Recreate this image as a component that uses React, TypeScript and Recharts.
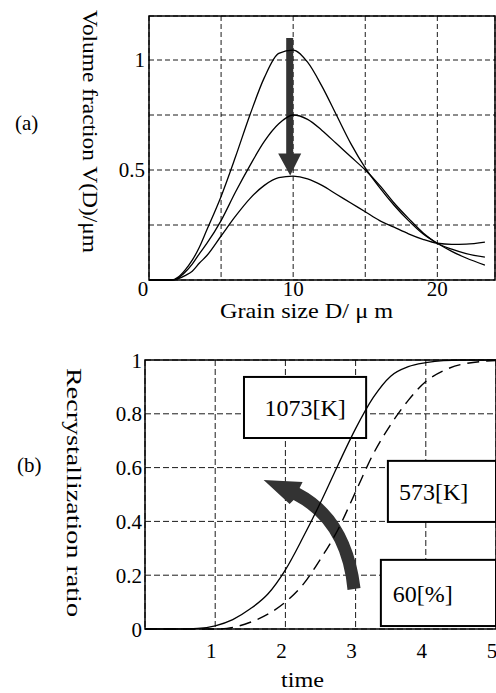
import { LineChart, Line, XAxis, YAxis, CartesianGrid, ReferenceArea } from "recharts";

const FONT = "Liberation Serif, Times New Roman, serif";

// (a) grain size distribution, three annealing stages
const grainSize = [0, 1, 1.6, 2, 2.5, 3, 3.5, 4, 5, 6, 7, 8, 9, 10, 11, 12, 13, 14, 15, 16, 17, 18, 19, 20, 21, 22, 23.3];
const fracHigh = [0, 0, 0, 0.012, 0.045, 0.09, 0.15, 0.226, 0.38, 0.56, 0.75, 0.92, 1.03, 1.045, 0.99, 0.88, 0.75, 0.62, 0.51, 0.42, 0.34, 0.27, 0.21, 0.167, 0.13, 0.1, 0.068];
const fracMid = [0, 0, 0, 0.008, 0.035, 0.072, 0.12, 0.165, 0.27, 0.4, 0.52, 0.63, 0.71, 0.75, 0.73, 0.68, 0.62, 0.56, 0.5, 0.43, 0.35, 0.28, 0.215, 0.167, 0.14, 0.12, 0.104];
const fracLow = [0, 0, 0, 0.005, 0.02, 0.04, 0.077, 0.11, 0.2, 0.29, 0.37, 0.43, 0.465, 0.472, 0.46, 0.43, 0.39, 0.35, 0.31, 0.27, 0.24, 0.21, 0.185, 0.167, 0.162, 0.163, 0.172];
const grainTicks = [0, 5, 10, 15, 20];
const fracTicks = [0.25, 0.5, 0.75, 1];

// (b) recrystallization ratio vs time
const timeSteps = [0, 0.5, 0.75, 1, 1.25, 1.5, 1.75, 2, 2.25, 2.5, 2.75, 3, 3.25, 3.5, 3.75, 4, 4.25, 4.5, 5];
const ratio1073 = [0, 0, 0.002, 0.012, 0.035, 0.075, 0.13, 0.22, 0.34, 0.47, 0.61, 0.745, 0.86, 0.94, 0.975, 0.99, 0.998, 1, 1];
const ratio573 = [0, 0, 0, 0, 0.006, 0.025, 0.055, 0.1, 0.165, 0.26, 0.37, 0.51, 0.65, 0.76, 0.85, 0.92, 0.96, 0.983, 0.998];
const timeTicks = [1, 2, 3, 4, 5];
const ratioTicks = [0, 0.2, 0.4, 0.6, 0.8, 1];

// annotation boxes in (b), in data units
const boxes = [
  { text: "1073[K]", x1: 1.41, x2: 3.15, y1: 0.71, y2: 0.937, pad: null as number | null },
  { text: "573[K]", x1: 3.46, x2: 5, y1: 0.398, y2: 0.625, pad: 11 },
  { text: "60[%]", x1: 3.36, x2: 5, y1: 0.011, y2: 0.257, pad: 12 },
];

const distRows = grainSize.map((d, i) => ({ d, high: fracHigh[i], mid: fracMid[i], low: fracLow[i] }));
const recRows = timeSteps.map((t, i) => ({ t, hot: ratio1073[i], cold: ratio573[i] }));

function DownArrow(p: any) {
  const { x, y, width: w, height: h } = p;
  const sx = w / 23, sy = h / 138;
  const P = (a: number, b: number) => `${x + a * sx} ${y + b * sy}`;
  const d = `M ${P(8, 0)} L ${P(15, 0)} L ${P(15, 116)} L ${P(23, 116)} L ${P(12, 138)} L ${P(0, 116)} L ${P(8, 116)} Z`;
  return <path d={d} fill="#333" />;
}

function CurvedArrow(p: any) {
  const { x, y, width: w, height: h } = p;
  const sx = w / 97, sy = h / 110;
  const P = (a: number, b: number) => `${x + a * sx} ${y + b * sy}`;
  const d = `M ${P(0, 0)} L ${P(39, 2)} L ${P(36, 8)} Q ${P(88, 35)} ${P(97, 108)} L ${P(84, 110)} Q ${P(78, 45)} ${P(30, 20)} L ${P(26, 24)} Z`;
  return <path d={d} fill="#333" />;
}

function boxShape(text: string, pad: number | null) {
  return (p: any) => {
    const { x, y, width, height } = p;
    const tx = pad == null ? x + width / 2 : x + pad;
    return (
      <g>
        <rect x={x} y={y} width={width} height={height} fill="#fff" stroke="#000" strokeWidth={2} />
        <text x={tx} y={y + height / 2 + 9} textAnchor={pad == null ? "middle" : "start"} fontSize={24} style={{ fontFamily: FONT }} fill="#000">
          {text}
        </text>
      </g>
    );
  };
}

const tickText = (x: number, y: number, label: string, anchor: string) => (
  <text x={x} y={y} textAnchor={anchor} fontSize={21} style={{ fontFamily: FONT }} fill="#000">
    {label}
  </text>
);

export default function App() {
  return (
    <div style={{ position: "absolute", left: 0, top: 0, width: 496, height: 693, background: "#fff", overflow: "hidden", fontFamily: FONT }}>
      <div style={{ position: "absolute", left: 0, top: 0 }}>
        <LineChart width={496} height={330} data={distRows} margin={{ top: 16, right: 1, bottom: 20, left: 0 }} style={{ fontFamily: FONT }}>
          <CartesianGrid stroke="#000" strokeWidth={0.9} strokeDasharray="5 3" />
          <XAxis
            dataKey="d"
            type="number"
            domain={[0, 24]}
            ticks={grainTicks}
            interval={0}
            height={30}
            axisLine={false}
            tickLine={false}
            tickSize={0}
            tickMargin={0}
            tick={(t: any) => tickText(t.x + (t.payload.value === 0 ? -6 : 0), t.y + 16, t.payload.value % 10 === 0 ? String(t.payload.value) : "", "middle")}
          />
          <YAxis
            type="number"
            domain={[0, 1.2]}
            ticks={fracTicks}
            interval={0}
            width={149}
            axisLine={false}
            tickLine={false}
            tickSize={0}
            tickMargin={0}
            tick={(t: any) => tickText(t.x - 4, t.y + 7, t.payload.value === 0.5 ? "0.5" : t.payload.value === 1 ? "1" : "", "end")}
          />
          <Line type="monotone" dataKey="high" stroke="#000" strokeWidth={1.3} dot={false} isAnimationActive={false} />
          <Line type="monotone" dataKey="mid" stroke="#000" strokeWidth={1.3} dot={false} isAnimationActive={false} />
          <Line type="monotone" dataKey="low" stroke="#000" strokeWidth={1.3} dot={false} isAnimationActive={false} />
          <ReferenceArea x1={0} x2={24} y1={0} y2={1.2} fill="none" stroke="#000" strokeWidth={1.5} fillOpacity={0} />
          <ReferenceArea x1={8.96} x2={10.56} y1={0.475} y2={1.1} shape={DownArrow} />
        </LineChart>
      </div>
      <div style={{ position: "absolute", left: 0, top: 330 }}>
        <LineChart width={496} height={363} data={recRows} margin={{ top: 30, right: 0, bottom: 34, left: 0 }} style={{ fontFamily: FONT }}>
          <CartesianGrid stroke="#000" strokeWidth={0.9} strokeDasharray="6 3" />
          <XAxis
            dataKey="t"
            type="number"
            domain={[0, 5]}
            ticks={timeTicks}
            interval={0}
            height={30}
            axisLine={false}
            tickLine={false}
            tickSize={0}
            tickMargin={0}
            tick={(t: any) => tickText(t.x - 4, t.y + 29, String(t.payload.value), "middle")}
          />
          <YAxis
            type="number"
            domain={[0, 1]}
            ticks={ratioTicks}
            interval={0}
            width={145}
            axisLine={false}
            tickLine={false}
            tickSize={0}
            tickMargin={0}
            tick={(t: any) => {
              const v = t.payload.value;
              return tickText(t.x - 3, t.y + 7.5, v === 0 ? "0" : v === 1 ? "1" : v.toFixed(1), "end");
            }}
          />
          <Line type="monotone" dataKey="hot" stroke="#000" strokeWidth={1.3} dot={false} isAnimationActive={false} />
          <Line type="monotone" dataKey="cold" stroke="#000" strokeWidth={1.4} strokeDasharray="12 7" dot={false} isAnimationActive={false} />
          <ReferenceArea x1={0} x2={5} y1={0} y2={1} fill="none" stroke="#000" strokeWidth={1.5} fillOpacity={0} />
          {boxes.map((b) => (
            <ReferenceArea key={b.text} x1={b.x1} x2={b.x2} y1={b.y1} y2={b.y2} shape={boxShape(b.text, b.pad)} />
          ))}
          <ReferenceArea x1={1.69} x2={3.07} y1={0.145} y2={0.554} shape={CurvedArrow} />
        </LineChart>
      </div>
      <svg width={496} height={693} style={{ position: "absolute", left: 0, top: 0, pointerEvents: "none", fontFamily: FONT }}>
        <g fill="#000">
          <text x={15} y={130} fontSize={21}>(a)</text>
          <text x={17} y={472} fontSize={21}>(b)</text>
          <text transform="translate(90,10) rotate(90)" fontSize={21} dominantBaseline="central" textLength={243} lengthAdjust="spacingAndGlyphs">
            Volume fraction V(D)/μm
          </text>
          <text transform="translate(74,368) rotate(90)" fontSize={21} dominantBaseline="central" textLength={249} lengthAdjust="spacingAndGlyphs">
            Recrystallization ratio
          </text>
          <text x={220} y={318} fontSize={21} textLength={173} lengthAdjust="spacingAndGlyphs">
            Grain size D/ μ m
          </text>
          <text x={281} y={687} fontSize={22} textLength={43} lengthAdjust="spacingAndGlyphs">
            time
          </text>
        </g>
      </svg>
    </div>
  );
}
